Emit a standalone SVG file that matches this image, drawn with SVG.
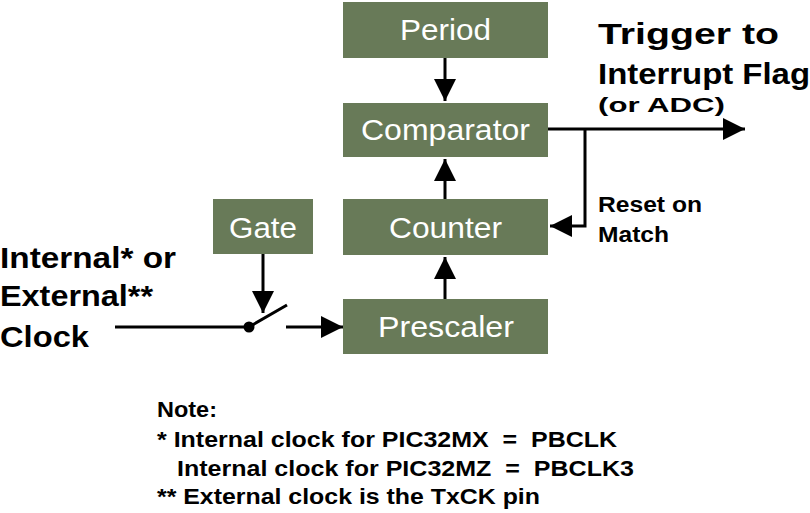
<svg xmlns="http://www.w3.org/2000/svg" width="810" height="513" viewBox="0 0 810 513">
<style>
.box{fill:#687a58}
.bt{font-family:"Liberation Sans",Arial,sans-serif;font-size:29px;fill:#fff}
.lb{font-family:"Liberation Sans",Arial,sans-serif;font-weight:bold;fill:#000}
.pre{white-space:pre}
.ln{stroke:#000;stroke-width:3;fill:none}
</style>
<defs>
<marker id="a" viewBox="0 0 10 10" refX="10" refY="5" markerWidth="24" markerHeight="22" markerUnits="userSpaceOnUse" orient="auto"><path d="M0,0 L10,5 L0,10z" fill="#000"/></marker></defs>
<rect width="810" height="513" fill="#fff"/>
<g id="period"><rect class="box" x="343" y="2" width="205" height="56"/><text class="bt" x="400" y="40" textLength="91" lengthAdjust="spacingAndGlyphs">Period</text></g>
<g id="comparator"><rect class="box" x="343" y="103" width="205" height="54"/><text class="bt" x="361" y="140" textLength="169" lengthAdjust="spacingAndGlyphs">Comparator</text></g>
<g id="counter"><rect class="box" x="343" y="199" width="205" height="56"/><text class="bt" x="389" y="238" textLength="113" lengthAdjust="spacingAndGlyphs">Counter</text></g>
<g id="prescaler"><rect class="box" x="343" y="299" width="205" height="55"/><text class="bt" x="378" y="337" textLength="136" lengthAdjust="spacingAndGlyphs">Prescaler</text></g>
<g id="gate"><rect class="box" x="213" y="199" width="100" height="55"/><text class="bt" x="229" y="238" textLength="68" lengthAdjust="spacingAndGlyphs">Gate</text></g>
<g id="connectors">
<path class="ln" d="M445,58 V101" marker-end="url(#a)"/>
<path class="ln" d="M445,199 V159" marker-end="url(#a)"/>
<path class="ln" d="M445,299 V257" marker-end="url(#a)"/>
<path class="ln" d="M548,129 H745" marker-end="url(#a)"/>
<path class="ln" d="M585,129 V226 H550" marker-end="url(#a)"/>
<path class="ln" d="M263,254 V313" marker-end="url(#a)"/>
<path class="ln" d="M115,327 H249 L287,305"/>
<circle cx="249" cy="327" r="5.5" fill="#000"/>
<path class="ln" d="M286,327 H343" marker-end="url(#a)"/>
</g>
<text class="lb" font-size="29" x="598" y="44" textLength="181" lengthAdjust="spacingAndGlyphs">Trigger to</text>
<text class="lb" font-size="29" x="598" y="84" textLength="212" lengthAdjust="spacingAndGlyphs">Interrupt Flag</text>
<text class="lb" font-size="21" x="598" y="112" textLength="127" lengthAdjust="spacingAndGlyphs">(or ADC)</text>
<text class="lb" font-size="22" x="598" y="212" textLength="104" lengthAdjust="spacingAndGlyphs">Reset on</text>
<text class="lb" font-size="22" x="598" y="242" textLength="71" lengthAdjust="spacingAndGlyphs">Match</text>
<text class="lb" font-size="29" x="0" y="268" textLength="176" lengthAdjust="spacingAndGlyphs">Internal* or</text>
<text class="lb" font-size="29" x="0" y="306" textLength="153" lengthAdjust="spacingAndGlyphs">External**</text>
<text class="lb" font-size="29" x="0" y="347" textLength="89" lengthAdjust="spacingAndGlyphs">Clock</text>
<g class="lb" font-size="22">
<text x="157" y="417" textLength="60" lengthAdjust="spacingAndGlyphs">Note:</text>
<text class="pre" xml:space="preserve" x="157" y="447" textLength="460" lengthAdjust="spacingAndGlyphs">* Internal clock for PIC32MX  =  PBCLK</text>
<text class="pre" xml:space="preserve" x="177" y="476" textLength="457" lengthAdjust="spacingAndGlyphs">Internal clock for PIC32MZ  =  PBCLK3</text>
<text x="157" y="504" textLength="383" lengthAdjust="spacingAndGlyphs">** External clock is the TxCK pin</text>
</g>
</svg>
